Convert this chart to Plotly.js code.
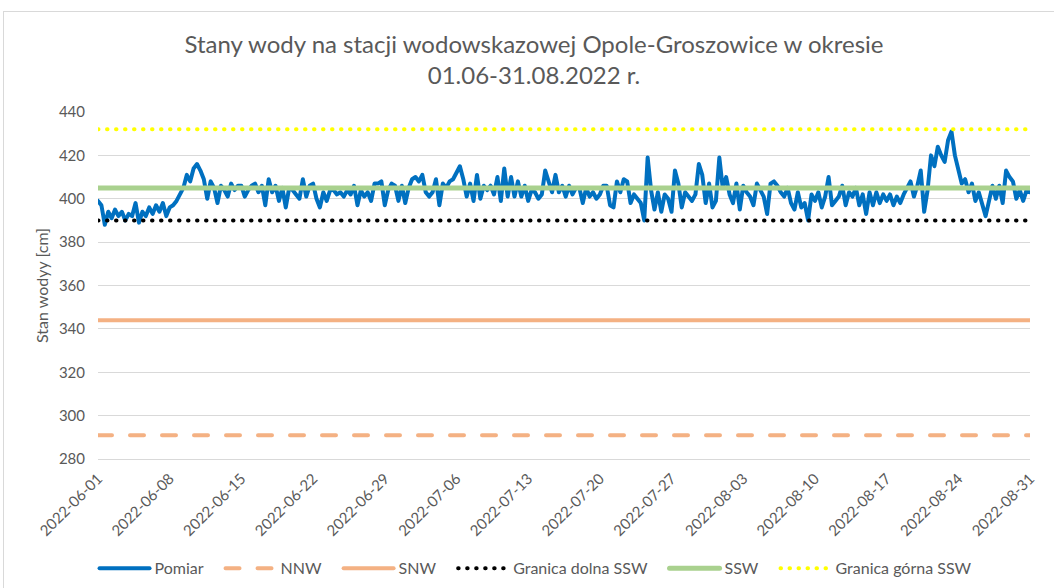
<!DOCTYPE html>
<html>
<head>
<meta charset="utf-8">
<script src="https://cdn.plot.ly/plotly-3.0.1.min.js"></script>
<style>
  html, body { margin: 0; padding: 0; background: #fff; }
  #frame { position: absolute; left: 3px; top: 11px; width: 1100px; height: 700px; border: 1px solid #D9D9D9; }
  #chart { position: absolute; left: 0; top: 0; width: 1054px; height: 588px; }
  .scatterlayer path.js-line, .legendlines path { stroke-linecap: round; stroke-linejoin: round; }
</style>
</head>
<body>
<div id="frame"></div>
<div id="chart"></div>
<script>
// Measurements every 8 hours, 2022-06-01 00:00 .. 2022-08-31 00:00 (cm)
const startDate = '2022-06-01T00:00:00Z';
const stepHours = 8;
const pomiar = [
  399,397,388, 394,391,395, 392,394,390, 393,392,398, 389,394,392,
  396,393,397, 394,398,392, 396,397,399, 402,405,411, 408,414,416,
  413,409,400, 408,405,398, 406,404,401, 407,404,406, 406,401,404,
  406,407,403, 406,397,409, 403,406,399, 405,396,405, 404,402,400,
  409,401,406, 407,400,396, 403,399,404, 404,402,403, 401,404,402,
  406,397,404, 401,403,399, 407,407,408, 397,404,407, 406,399,406,
  398,405,409, 410,408,411, 403,401,403, 409,397,407, 405,408,409,
  412,415,409, 401,407,399, 411,400,406, 404,406,402, 410,399,414,
  401,410,401, 408,401,406, 399,404,403, 400,402,413, 408,403,411,
  403,406,401, 406,402,405, 405,398,405, 401,403,400, 402,406,406,
  397,396,408, 403,409,408, 398,402,400, 398,390,419, 404,395,403,
  394,402,400, 394,413,407, 396,403,401, 399,402,416, 411,398,407,
  396,399,419, 405,410,402, 398,407,395, 406,403,401, 397,407,404,
  401,393,407, 408,406,403, 401,405,398, 395,403,396, 398,390,402,
  399,403,396, 401,410,397, 399,401,406, 397,403,401, 405,397,402,
  393,403,397, 403,398,402, 399,402,397, 401,398,402, 405,408,401,
  406,413,394, 404,420,415, 424,420,417, 427,431,420, 413,407,409,
  403,407,399, 403,397,392, 399,406,400, 406,398,413, 410,408,400,
  404,399,404, 403
];
const NNW = 291;
const SNW = 344;
const granicaDolnaSSW = 390;
const SSW = 405;
const granicaGornaSSW = 432;
const tickLabels = ['2022-06-01','2022-06-08','2022-06-15','2022-06-22','2022-06-29','2022-07-06','2022-07-13',
                    '2022-07-20','2022-07-27','2022-08-03','2022-08-10','2022-08-17','2022-08-24','2022-08-31'];
const yTicks = [280,300,320,340,360,380,400,420,440];
const seriesNames = ['Pomiar', 'NNW', 'SNW', 'Granica dolna SSW', 'SSW', 'Granica górna SSW'];

const t0 = Date.parse(startDate);
const pad = n => (n < 10 ? '0' : '') + n;
function fmt(ms) {
  const d = new Date(ms);
  return d.getUTCFullYear() + '-' + pad(d.getUTCMonth() + 1) + '-' + pad(d.getUTCDate()) + ' ' + pad(d.getUTCHours()) + ':00';
}
const xs = pomiar.map((_, i) => fmt(t0 + i * stepHours * 3600000));
const xEnds = [xs[0], xs[xs.length - 1]];
const flat = v => [v, v];
const NB = '\u00a0\u00a0\u00a0';
const legendName = (s, last) => last ? s : s + NB;

const FONT = 'Lato, "Noto Sans", sans-serif';
const GREY = '#595959';
const FS = 15;

const traces = [
  { name: legendName(seriesNames[0]), x: xs, y: pomiar, mode: 'lines', line: { color: '#0070C0', width: 4 } },
  { name: legendName(seriesNames[1]), x: xEnds, y: flat(NNW), mode: 'lines', line: { color: '#F4B183', width: 4, dash: '14px,18px' } },
  { name: legendName(seriesNames[2]), x: xEnds, y: flat(SNW), mode: 'lines', line: { color: '#F4B183', width: 4 } },
  { name: legendName(seriesNames[3]), x: xEnds, y: flat(granicaDolnaSSW), mode: 'lines', line: { color: '#000000', width: 4, dash: '0.5px,8.5px' } },
  { name: legendName(seriesNames[4]), x: xEnds, y: flat(SSW), mode: 'lines', line: { color: '#A9D18E', width: 5 } },
  { name: legendName(seriesNames[5], true), x: xEnds, y: flat(granicaGornaSSW), mode: 'lines', line: { color: '#FFFF00', width: 4, dash: '0.5px,8.5px' } }
];

const layout = {
  width: 1054, height: 588,
  paper_bgcolor: 'rgba(0,0,0,0)', plot_bgcolor: 'rgba(0,0,0,0)',
  font: { family: FONT, color: GREY, size: FS },
  margin: { l: 98, r: 24, t: 112, b: 129, autoexpand: false },
  title: {
    text: 'Stany wody na stacji wodowskazowej Opole-Groszowice w okresie<br>01.06-31.08.2022 r.',
    font: { family: FONT, size: 24, color: GREY },
    x: 534 / 1054, xref: 'container', xanchor: 'center',
    y: 1 - 53 / 588, yref: 'container', yanchor: 'top'
  },
  xaxis: {
    type: 'date', automargin: false,
    range: [xs[0], xs[xs.length - 1]],
    tickmode: 'array', tickvals: tickLabels, ticktext: tickLabels,
    tickangle: -45, showgrid: false, zeroline: false,
    showline: true, linecolor: '#D9D9D9', linewidth: 1,
    ticks: '', ticklabelstandoff: 4, tickfont: { size: FS, color: GREY }
  },
  yaxis: {
    range: [280, 440], tickmode: 'array', tickvals: yTicks, automargin: false,
    showgrid: true, gridcolor: '#D9D9D9', gridwidth: 1, zeroline: false,
    showline: false, ticks: '', ticklabelstandoff: 12,
    tickfont: { size: FS, color: GREY },
    title: { text: 'Stan wodyy [cm]', font: { family: FONT, size: 16, color: GREY }, standoff: 6 }
  },
  showlegend: true,
  legend: {
    orientation: 'h', x: 0.47, xanchor: 'center', y: -0.315, yanchor: 'middle',
    font: { size: 16, color: GREY }, itemwidth: 50, traceorder: 'normal',
    bgcolor: 'rgba(0,0,0,0)'
  }
};

Plotly.newPlot('chart', traces, layout, { displayModeBar: false, staticPlot: true });
</script>
</body>
</html>
